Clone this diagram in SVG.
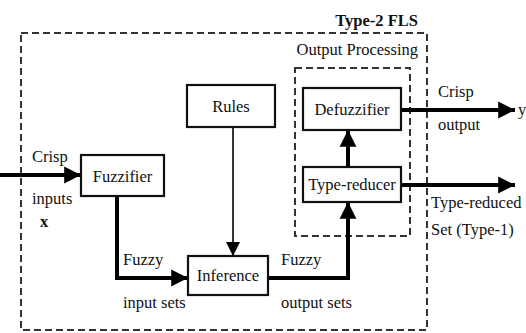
<svg xmlns="http://www.w3.org/2000/svg" width="526" height="333" viewBox="0 0 526 333" font-family="'Liberation Serif', 'DejaVu Serif', serif">
<defs>
<style>
text{font-family:'Liberation Serif','DejaVu Serif',serif;font-size:16.5px;fill:#111}
.box{fill:#fff;stroke:#111;stroke-width:2.2}
.dash{fill:none;stroke:#333;stroke-width:2;stroke-dasharray:7 4}
.thick{fill:none;stroke:#000;stroke-width:4}
.thin{fill:none;stroke:#000;stroke-width:1.6}
.c{text-anchor:middle}
</style>
<marker id="ah" viewBox="0 0 10 10" refX="10" refY="5" markerWidth="4.2" markerHeight="4.4" markerUnits="strokeWidth" orient="auto">
<path d="M0,0 L10,5 L0,10 z" fill="#000"/>
</marker>
<marker id="ahs" viewBox="0 0 10 10" refX="10" refY="5" markerWidth="9" markerHeight="9" markerUnits="strokeWidth" orient="auto">
<path d="M0,0 L10,5 L0,10 z" fill="#000"/>
</marker>
</defs>
<rect width="526" height="333" fill="#fff"/>
<g id="fls">
<rect class="dash" x="21" y="33" width="406" height="297"/>
<text x="418" y="26" text-anchor="end" font-weight="bold">Type-2 FLS</text>
</g>
<g id="output-processing">
<rect class="dash" x="295" y="68" width="115" height="168"/>
<text x="418" y="55" text-anchor="end">Output Processing</text>
</g>
<g id="connectors">
<path class="thick" d="M0,175 H81" marker-end="url(#ah)"/>
<path class="thick" d="M117,196 V278 H188" marker-end="url(#ah)"/>
<path class="thin" d="M233,127 V256" marker-end="url(#ahs)"/>
<path class="thick" d="M268,278 H348 V202" marker-end="url(#ah)"/>
<path class="thick" d="M348,167 V130" marker-end="url(#ah)"/>
<path class="thick" d="M401,110 H515" marker-end="url(#ah)"/>
<path class="thick" d="M401,185 H515" marker-end="url(#ah)"/>
</g>
<g id="fuzzifier">
<rect class="box" x="81" y="155" width="83" height="41"/>
<text class="c" x="122.5" y="182">Fuzzifier</text>
</g>
<g id="rules">
<rect class="box" x="187" y="85" width="88" height="42"/>
<text class="c" x="231" y="112">Rules</text>
</g>
<g id="inference">
<rect class="box" x="188" y="256" width="80" height="39"/>
<text class="c" x="228" y="281">Inference</text>
</g>
<g id="defuzzifier">
<rect class="box" x="303" y="88" width="98" height="42"/>
<text class="c" x="352" y="115">Defuzzifier</text>
</g>
<g id="type-reducer">
<rect class="box" x="303" y="167" width="98" height="35"/>
<text class="c" x="352" y="190">Type-reducer</text>
</g>
<g id="labels">
<text x="32" y="162">Crisp</text>
<text x="32" y="204">inputs</text>
<text x="40" y="227" font-weight="bold">x</text>
<text x="123" y="265">Fuzzy</text>
<text x="123" y="308">input sets</text>
<text x="281" y="265">Fuzzy</text>
<text x="281" y="308">output sets</text>
<text x="438" y="97">Crisp</text>
<text x="438" y="130">output</text>
<text x="518" y="115">y</text>
<text x="431" y="208">Type-reduced</text>
<text x="431" y="235">Set (Type-1)</text>
</g>
</svg>
